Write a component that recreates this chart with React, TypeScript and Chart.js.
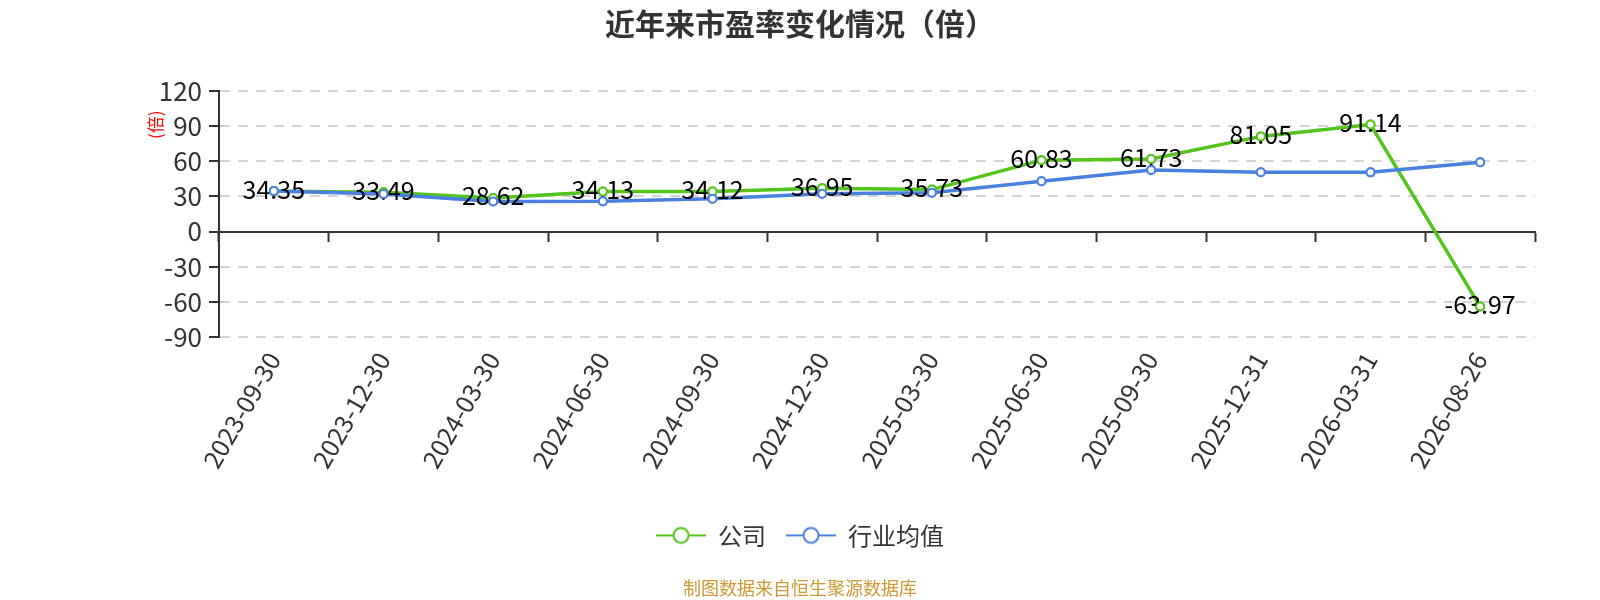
import React, { useEffect, useRef } from "react";
import { Chart, registerables } from "chart.js";

Chart.register(...registerables);

const FONT = '"Noto Sans CJK SC", "Noto Sans", sans-serif';
Chart.defaults.font.family = FONT;

const categories = [
  "2023-09-30",
  "2023-12-30",
  "2024-03-30",
  "2024-06-30",
  "2024-09-30",
  "2024-12-30",
  "2025-03-30",
  "2025-06-30",
  "2025-09-30",
  "2025-12-31",
  "2026-03-31",
  "2026-08-26",
];
const companyPE = [34.35, 33.49, 28.62, 34.13, 34.12, 36.95, 35.73, 60.83, 61.73, 81.05, 91.14, -63.97];
const industryPE = [34.6, 32.0, 25.5, 25.7, 28.0, 32.2, 33.0, 42.8, 52.4, 50.5, 50.4, 59.0];
const seriesNames = ["公司", "行业均值"];
const seriesColors = ["#52c41a", "#4a80e0"];
const yMin = -90;
const yMax = 120;
const yStep = 30;
const titleText = "近年来市盈率变化情况（倍）";
const unitText = "(倍)";
const sourceText = "制图数据来自恒生聚源数据库";

function makeIcon(color: string): HTMLCanvasElement {
  const c = document.createElement("canvas");
  c.width = 50;
  c.height = 22;
  const g = c.getContext("2d")!;
  g.strokeStyle = color;
  g.lineWidth = 2;
  g.beginPath();
  g.moveTo(0, 11);
  g.lineTo(50, 11);
  g.stroke();
  g.beginPath();
  g.arc(25, 11, 7.5, 0, Math.PI * 2);
  g.fillStyle = "#fff";
  g.fill();
  g.stroke();
  return c;
}

export default function App() {
  const ref = useRef<HTMLCanvasElement | null>(null);

  useEffect(() => {
    if (!ref.current) return;
    const icons = seriesColors.map(makeIcon);

    const overlay = {
      id: "overlay",
      afterDatasetsDraw(chart: any) {
        const ctx = chart.ctx;
        const meta = chart.getDatasetMeta(0);
        ctx.save();
        ctx.font = `25px ${FONT}`;
        ctx.fillStyle = "#000";
        ctx.textAlign = "center";
        ctx.textBaseline = "middle";
        meta.data.forEach((pt: any, i: number) => {
          ctx.fillText(companyPE[i].toFixed(2), pt.x, pt.y - 2);
        });
        ctx.restore();
        // points on top of labels
        [0, 1].forEach((di) => {
          const m = chart.getDatasetMeta(di);
          m.data.forEach((pt: any) => pt.draw(ctx, chart.chartArea));
        });
      },
      afterDraw(chart: any) {
        const ctx = chart.ctx;
        const ca = chart.chartArea;
        ctx.save();
        ctx.translate(ca.left - 63, ca.top + 34);
        ctx.rotate(-Math.PI / 2);
        ctx.font = `17px ${FONT}`;
        ctx.fillStyle = "#ff0000";
        ctx.textAlign = "center";
        ctx.textBaseline = "middle";
        ctx.fillText(unitText, 0, 0);
        ctx.restore();
      },
    };

    const chart = new Chart(ref.current, {
      type: "line",
      data: {
        labels: categories,
        datasets: [
          {
            label: seriesNames[0],
            data: companyPE,
            borderColor: seriesColors[0],
            backgroundColor: seriesColors[0],
            borderWidth: 3.5,
            pointRadius: 4,
            pointBorderWidth: 2,
            pointBackgroundColor: "#fff",
            pointBorderColor: seriesColors[0],
            tension: 0,
            order: 1,
          },
          {
            label: seriesNames[1],
            data: industryPE,
            borderColor: seriesColors[1],
            backgroundColor: seriesColors[1],
            borderWidth: 3.5,
            pointRadius: 4,
            pointBorderWidth: 2,
            pointBackgroundColor: "#fff",
            pointBorderColor: seriesColors[1],
            tension: 0,
            order: 0,
          },
        ],
      },
      options: {
        animation: false,
        responsive: false,
        events: [],
        layout: { padding: { left: 65, right: 65, top: 0, bottom: 0 } },
        scales: {
          x: {
            type: "category",
            position: { y: 0 } as any,
            offset: true,
            ticks: { display: false },
            grid: {
              display: true,
              drawOnChartArea: false,
              drawTicks: true,
              tickLength: 9,
              tickColor: "#333",
              tickWidth: 2,
              offset: true,
            },
            border: { display: true, color: "#333", width: 2 },
          },
          x2: {
            type: "category",
            position: "bottom",
            offset: true,
            grid: { display: false, drawTicks: false },
            border: { display: false },
            ticks: {
              color: "#333",
              font: { size: 25 },
              maxRotation: 60,
              minRotation: 60,
              autoSkip: false,
              padding: 10,
            },
            afterFit: (s: any) => {
              s.height = 166.3;
            },
          },
          y: {
            min: yMin,
            max: yMax,
            ticks: { stepSize: yStep, color: "#333", font: { size: 26 }, padding: 7 },
            grid: {
              color: "#d3d3d3",
              lineWidth: 2,
              tickColor: "#333",
              tickLength: 10,
              tickWidth: 2,
              drawTicks: true,
            },
            border: { display: true, color: "#333", width: 2, dash: [10, 8] },
            afterFit: (s: any) => {
              s.width = 154;
            },
          },
        },
        plugins: {
          tooltip: { enabled: false },
          title: {
            display: true,
            text: titleText,
            color: "#333",
            font: { size: 30, weight: "bold" },
            padding: { top: 5.5, bottom: 49.2 },
          },
          subtitle: {
            display: true,
            position: "bottom",
            text: sourceText,
            color: "#cc9933",
            font: { size: 18, weight: "normal" },
            padding: { top: 20, bottom: 1 },
          },
          legend: {
            position: "bottom",
            labels: {
              usePointStyle: true,
              pointStyleWidth: 50,
              color: "#333",
              font: { size: 24 },
              padding: 20,
              sort: (a: any, b: any) => a.datasetIndex - b.datasetIndex,
              generateLabels: (c: any) => {
                const items = (Chart.defaults.plugins.legend.labels as any).generateLabels(c);
                return items.map((it: any) => ({ ...it, pointStyle: icons[it.datasetIndex] }));
              },
            },
          },
        },
      },
      plugins: [overlay],
    } as any);

    return () => chart.destroy();
  }, []);

  return (
    <div style={{ position: "fixed", left: 0, top: 0, width: 1600, height: 600, background: "#fff" }}>
      <canvas ref={ref} width={1600} height={600} style={{ display: "block" }} />
    </div>
  );
}
